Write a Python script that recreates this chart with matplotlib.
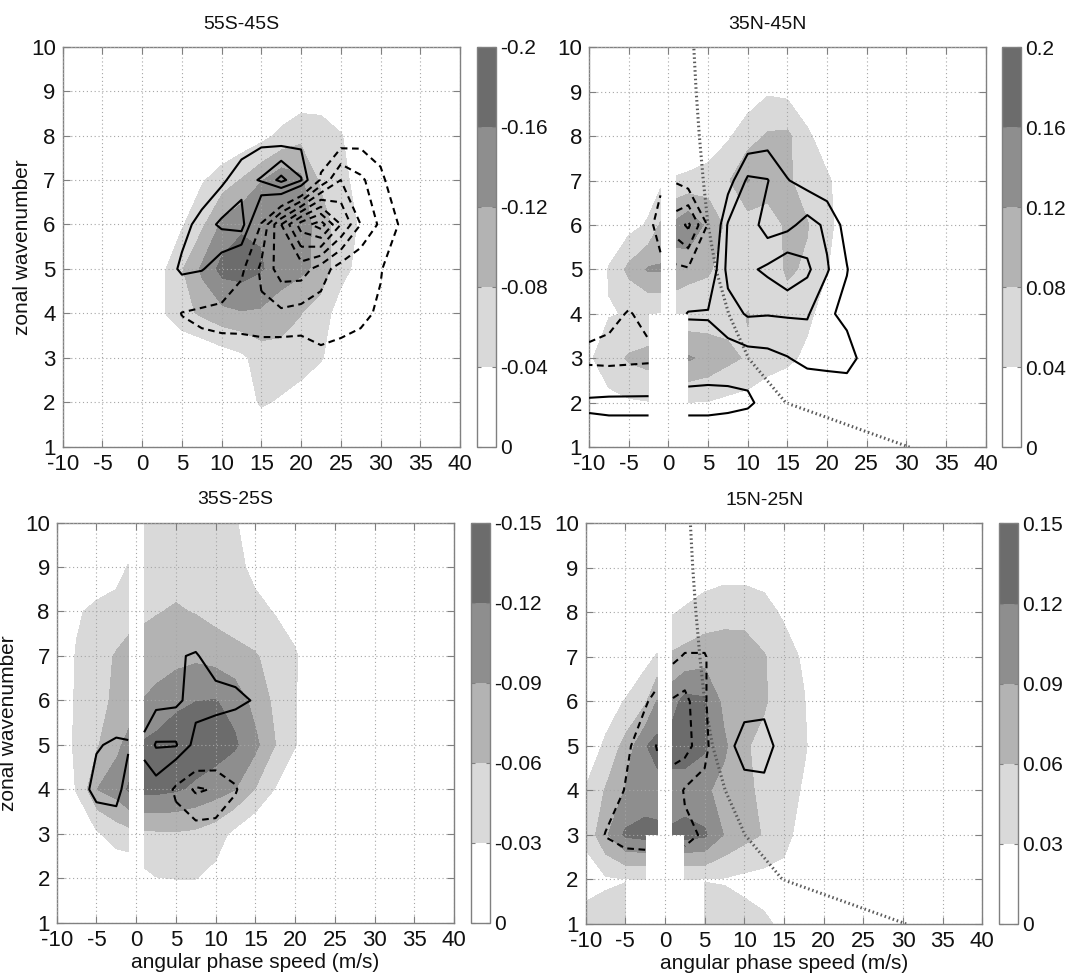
import numpy as np
import matplotlib
matplotlib.use('Agg')
import matplotlib.pyplot as plt
from matplotlib.colors import ListedColormap, BoundaryNorm
from matplotlib.cm import ScalarMappable

nan = np.nan

# grid: columns are angular phase speed (m/s), rows are zonal wavenumber 1..10
phase_speed = [-10, -7.5, -5, -2.5, -1, 0, 1, 2.5, 5, 7.5, 10, 12.5,
               15, 17.5, 20, 22.5, 25, 27.5, 30, 32.5, 35]
wavenumber = [1, 2, 3, 4, 5, 6, 7, 8, 9, 10]

# shaded fields, in units of 0.01
shade_55s = [
    [0] * 21,
    [0, 0, 0, 0, 0, 0, 0, 0, 0, 0, 0, -2, -4.5, -3.5, -2, 0, 0, 0, 0, 0, 0],
    [0, 0, 0, 0, 0, 0, 0, 0, 0, 0, -1.5, -3, -6, -6.5, -6, -4.4, -1, 0, 0, 0, 0],
    [0, 0, 0, 0, -0.5, -1, -2, -3.5, -6.5, -9, -11, -11.8, -11.5, -10, -8.2, -6, -2, 0, 0, 0, 0],
    [0, 0, 0, 0, -0.5, -1, -2, -3, -8, -13, -17.5, -18, -16.5, -14, -13, -11, -5.5, -2.5, 0, 0, 0],
    [0, 0, 0, 0, 0, 0, 0, -0.5, -3.5, -7.5, -13, -15.5, -15.5, -15, -14, -10.5, -6, -3.5, -0.5, 0, 0],
    [0, 0, 0, 0, 0, 0, 0, 0, -1, -3.5, -6, -8.5, -12, -15, -13, -7.5, -5.5, -2, 0, 0, 0],
    [0, 0, 0, 0, 0, 0, 0, 0, 0, 0, 0, -1, -2.5, -5, -7, -6.5, -4.3, -1, 0, 0, 0],
    [0, 0, 0, 0, 0, 0, 0, 0, 0, 0, 0, 0, 0, 0, -1, -1, 0, 0, 0, 0, 0],
    [0] * 21,
]
shade_35n = [
    [0] * 21,
    [1.5, 3, 3.5, 3.8, nan, nan, nan, 3.9, 3.8, 3, 2.5, 1, 0, 0, 0, 0, 0, 0, 0, 0, 0],
    [3.5, 6, 8.5, 9.5, nan, nan, nan, 12.5, 11, 9, 7.5, 6, 5, 3, 0, 0, 0, 0, 0, 0, 0],
    [2, 3.8, 4.2, 3.9, 3.8, nan, 4.5, 5, 5.5, 6.5, 8.2, 6, 6.5, 5, 2, 0, 0, 0, 0, 0, 0],
    [0, 4.3, 9, 12.5, 12.5, nan, 11, 9.5, 8.5, 6, 5, 6, 8.5, 7.5, 4.2, 0.5, 0, 0, 0, 0, 0],
    [0, 1, 2.5, 4.5, 8.5, nan, 13, 15, 11, 7, 6, 6.5, 8.5, 8.2, 5.5, 1, 0, 0, 0, 0, 0],
    [0, 0, 0, 2, 3, nan, 4.5, 5, 6, 7.5, 12.3, 9.5, 8.5, 6.5, 4.8, 1, 0, 0, 0, 0, 0],
    [0, 0, 0, 0, 0, 0, 0, 0, 1, 3.5, 6, 8.5, 8.8, 5, 1, 0, 0, 0, 0, 0, 0],
    [0, 0, 0, 0, 0, 0, 0, 0, 0, 0, 2, 3.5, 3, 0, 0, 0, 0, 0, 0, 0, 0],
    [0] * 21,
]
shade_35s = [
    [0] * 21,
    [0, 0, 0, 0, 0, nan, -2.2, -2.9, -3.05, -3.05, -2, 0, 0, 0, 0, 0, 0, 0, 0, 0, 0],
    [0, -0.5, -2.5, -4.5, -5, nan, -5.5, -5.7, -5.8, -5.5, -4.5, -2, 0, 0, 0, 0, 0, 0, 0, 0, 0],
    [0, -3.2, -9.1, -10.5, -12.5, nan, -13, -13, -12.5, -11.5, -10.5, -9.2, -6.1, -2.8, 0, 0, 0, 0, 0, 0, 0],
    [0, -3.8, -5.8, -8.5, -10, nan, -12.5, -13, -13.5, -14, -13.5, -12.5, -10, -6.2, -3.2, 0, 0, 0, 0, 0, 0],
    [0, -3.5, -5.3, -6.5, -7.5, nan, -9.2, -10, -11.5, -12, -12.2, -11, -8, -5.5, -3.2, 0, 0, 0, 0, 0, 0],
    [0, -3.3, -5, -6.3, -7, nan, -7.5, -7.5, -8, -8.5, -8, -7, -6.3, -5, -3.5, 0, 0, 0, 0, 0, 0],
    [0, -2.5, -4, -4.5, -5, nan, -5.5, -5.9, -6.3, -5.9, -5, -4.5, -4, -2.8, -1, 0, 0, 0, 0, 0, 0],
    [0, 0, 0, -1.5, -3.2, nan, -4, -4.5, -5, -5, -4.8, -4, -2, 0, 0, 0, 0, 0, 0, 0, 0],
    [0, 0, 0, 0, 0, 0, -3.5, -4, -4.5, -4.5, -4, -3.2, -1.5, 0, 0, 0, 0, 0, 0, 0, 0],
]
shade_15n = [
    [4, 4.2, 4.3, nan, 0, 0, 0, nan, 4.5, 4.3, 4, 3.4, 2.5, 0, 0, 0, 0, 0, 0, 0, 0],
    [2, 2.6, 2.9, 2.9, nan, nan, nan, 2.9, 2.9, 2.8, 2.3, 2, 1.5, 0.5, 0, 0, 0, 0, 0, 0, 0],
    [3.5, 8.5, 12.5, 13, 12.5, nan, 12.5, 13, 12.5, 8.8, 7, 5.8, 4.5, 1, 0, 0, 0, 0, 0, 0, 0],
    [3.2, 6.2, 9.2, 10.5, 11, nan, 10.5, 10.5, 9.5, 8, 6.5, 5.5, 5, 2.5, 0, 0, 0, 0, 0, 0, 0],
    [1, 3.5, 7, 11.8, 13, nan, 13.5, 13.5, 12.5, 9.5, 6.2, 5.5, 5, 3.5, 0.5, 0, 0, 0, 0, 0, 0],
    [0, 1.5, 3.2, 5.5, 9.2, nan, 11, 13, 12.5, 8, 6.5, 6.2, 5, 3.2, 0, 0, 0, 0, 0, 0, 0],
    [0, 0, 0, 2, 3.3, nan, 6.5, 7, 7.8, 8.2, 8, 6.2, 4.5, 2.5, 0, 0, 0, 0, 0, 0, 0],
    [0, 0, 0, 0, 0, 0, 2.8, 3.5, 4.3, 4.6, 4.6, 4.2, 2.5, 0, 0, 0, 0, 0, 0, 0, 0],
    [0, 0, 0, 0, 0, 0, 0, 0, 1.5, 2, 2, 1.5, 0, 0, 0, 0, 0, 0, 0, 0, 0],
    [0] * 21,
]

# overlaid line fields, in contour intervals (solid > 0, dashed < 0)
lines_55s = [
    [0] * 21,
    [0] * 21,
    [0, 0, 0, 0, 0, 0, 0, 0, -0.2, -0.4, -0.5, -0.3, -0.3, -0.3, -0.4, -0.8, -0.6, -0.4, 0, 0, 0],
    [0, 0, 0, 0, 0, 0, 0, 0, -1.05, -1.3, -1.4, -1.6, -1.8, -1.8, -1.6, -1.5, -1.5, -1.3, -0.8, 0, 0],
    [0, 0, 0, 0, 0, 0, 0, 0, 1.3, 1.1, 0.3, -0.8, -2.2, -3.5, -3.5, -2.5, -1.5, -1.1, -1.1, 0, 0],
    [0, 0, 0, 0, 0, 0, 0, 0, 0.5, 1.5, 2.2, 2.5, -1.1, -4, -6.5, -7.5, -5, -3, -1.8, -0.9, 0],
    [0, 0, 0, 0, 0, 0, 0, 0, 0, 0, 0.8, 1.6, 2.1, 3.3, 2.1, -1.2, -3, -2.2, -1.3, 0, 0],
    [0, 0, 0, 0, 0, 0, 0, 0, 0, 0, 0, 0.3, 0.6, 0.3, 0.5, 0, -0.2, -0.5, -0.3, 0, 0],
    [0] * 21,
    [0] * 21,
]
lines_35n = [
    [0] * 21,
    [1.3, 1.4, 1.4, 1.4, nan, nan, nan, 1.4, 1.4, 1.3, 1.15, 0.7, 0, 0, 0, 0, 0, 0, 0, 0, 0],
    [-1.4, -1.5, -1.4, -1.3, nan, nan, nan, 0.3, 0.4, 0.5, 0.6, 0.7, 0.95, 1.3, 1.4, 1.5, 0.5, 0, 0, 0, 0],
    [-0.3, -0.6, -1.1, -0.6, -0.3, nan, 0.5, 1.1, 1.1, 1.6, 2.1, 2.05, 2.1, 2.1, 1.2, 0.7, 0, 0, 0, 0, 0],
    [0, 0, 0, 0, -0.5, nan, -0.8, -0.9, 0, 2.3, 2.8, 3.2, 3.8, 3.2, 2.1, 1.05, 0, 0, 0, 0, 0],
    [0, 0, 0, -0.5, -1.8, nan, -2.5, -3.2, -0.9, 2.1, 2.6, 1.5, 1.7, 2.4, 1.8, 0.6, 0, 0, 0, 0, 0],
    [0, 0, 0, 0, -0.6, nan, -0.9, -0.5, 0, 0.5, 2.2, 2.05, 1.05, 0.6, 0.3, 0, 0, 0, 0, 0, 0],
    [0, 0, 0, 0, 0, 0, 0, 0, 0, 0, 0.2, 0.5, 0.2, 0, 0, 0, 0, 0, 0, 0, 0],
    [0] * 21,
    [0] * 21,
]
lines_35s = [
    [0] * 21,
    [0, 0, 0, 0, 0, nan, 0, 0, 0, 0, 0, 0, 0, 0, 0, 0, 0, 0, 0, 0, 0],
    [0, 0, 0, 0.5, 0, nan, 0, 0, -0.2, -0.5, -0.5, -0.2, 0, 0, 0, 0, 0, 0, 0, 0, 0],
    [0, 0.3, 1.4, 1.3, 0.6, nan, 0.6, 0.5, -1.3, -2.15, -1.9, -1.1, 0, 0, 0, 0, 0, 0, 0, 0, 0],
    [0, 0, 0.9, 1.2, 1.1, nan, 1.2, 2.1, 2.1, 0.6, 0.2, -0.2, 0, 0, 0, 0, 0, 0, 0, 0, 0],
    [0, 0, 0, 0, 0.2, nan, 0.5, 0.7, 0.8, 1.4, 1.4, 1.3, 0.9, 0, 0, 0, 0, 0, 0, 0, 0],
    [0, 0, 0, 0, 0, nan, 0, 0.3, 0.9, 1.1, 0.5, 0.3, 0, 0, 0, 0, 0, 0, 0, 0, 0],
    [0, 0, 0, 0, 0, nan, 0, 0, 0, 0, 0, 0, 0, 0, 0, 0, 0, 0, 0, 0, 0],
    [0, 0, 0, 0, 0, nan, 0, 0, 0, 0, 0, 0, 0, 0, 0, 0, 0, 0, 0, 0, 0],
    [0] * 21,
]
lines_15n = [
    [0, 0, 0, nan, 0, 0, 0, nan, 0, 0, 0, 0, 0, 0, 0, 0, 0, 0, 0, 0, 0],
    [0, 0, -0.3, -0.4, nan, nan, nan, -0.4, -0.2, 0, 0, 0, 0, 0, 0, 0, 0, 0, 0, 0, 0],
    [0, -1.05, -1.3, -1.3, -1.3, nan, -1.3, -1.2, -0.9, 0, 0, 0, 0, 0, 0, 0, 0, 0, 0, 0, 0],
    [0, -0.4, -1.05, -1.4, -1.6, nan, -1.6, -0.9, -0.7, 0, 0.3, 0.4, 0, 0, 0, 0, 0, 0, 0, 0, 0],
    [0, 0, -0.8, -1.5, -2.05, nan, -2.3, -2.4, -1.3, 0.2, 1.8, 1.9, 0, 0, 0, 0, 0, 0, 0, 0, 0],
    [0, 0, 0, -0.9, -1.3, nan, -2.1, -2.3, -1.1, 0, 0.3, 0.4, 0, 0, 0, 0, 0, 0, 0, 0, 0],
    [0, 0, 0, 0, -0.3, nan, -0.8, -1.1, -1.1, 0, 0, 0, 0, 0, 0, 0, 0, 0, 0, 0, 0],
    [0] * 21,
    [0] * 21,
    [0] * 21,
]

# critical-line phase speed per wavenumber (northern panels)
crit_k = [1, 2, 3, 4, 5, 6, 7, 8, 9, 10]
crit_c = [30.4, 14.8, 10.1, 7.6, 6.0, 5.0, 4.4, 3.9, 3.5, 3.2]

bounds_55s = [-0.2, -0.16, -0.12, -0.08, -0.04, 0]
bounds_35n = [0, 0.04, 0.08, 0.12, 0.16, 0.2]
bounds_35s = [-0.15, -0.12, -0.09, -0.06, -0.03, 0]
bounds_15n = [0, 0.03, 0.06, 0.09, 0.12, 0.15]

GRAYS = ['#d9d9d9', '#b3b3b3', '#8e8e8e', '#6c6c6c']
FRAME = '#808080'
TEXT = '#111111'

plt.rcParams['font.family'] = ['Liberation Sans', 'DejaVu Sans']
plt.rcParams['lines.dashed_pattern'] = [3.2, 2.2]
plt.rcParams['axes.unicode_minus'] = False


def draw_panel(fig, ax, cax, shade, lines, bounds, title, critical=False):
    c, k = np.meshgrid(phase_speed, wavenumber)
    z = np.ma.masked_invalid(np.array(shade, dtype=float) * 0.01)
    lz = np.ma.masked_invalid(np.array(lines, dtype=float))

    negative = bounds[0] < 0
    if negative:
        fill_levels = bounds[:-1]
        fill_colors = GRAYS[::-1]
        bar_colors = GRAYS[::-1] + ['white']
    else:
        fill_levels = bounds[1:]
        fill_colors = GRAYS
        bar_colors = ['white'] + GRAYS

    ax.contourf(c, k, z, levels=fill_levels, colors=fill_colors,
                corner_mask=False, zorder=0)
    ax.contour(c, k, lz, levels=[1, 2, 3], colors='k', linewidths=1.5,
               linestyles='solid', corner_mask=False, zorder=3)
    ax.contour(c, k, lz, levels=[-7, -6, -5, -4, -3, -2, -1], colors='k',
               linewidths=1.5, linestyles='dashed', corner_mask=False, zorder=3)

    if critical:
        ax.plot(crit_c, crit_k, linestyle=(0, (0.5, 0.9)), linewidth=2.2,
                color='#5a5a5a', zorder=2)

    ax.set_xlim(-10, 40)
    ax.set_ylim(1, 10)
    ax.set_xticks(range(-10, 41, 5))
    ax.set_yticks(range(1, 11))
    ax.set_axisbelow(False)
    ax.grid(True, color='#a6a6a6', linestyle=(0, (1, 2.5)), linewidth=0.8)
    ax.tick_params(direction='in', top=True, right=True, length=5, width=0.8,
                   color=FRAME, labelsize=16, labelcolor=TEXT, pad=5)
    for sp in ax.spines.values():
        sp.set_color(FRAME)
        sp.set_linewidth(1.0)
    ax.set_title(title, fontsize=14, color=TEXT, pad=13, x=0.45)

    norm = BoundaryNorm(bounds, len(bounds) - 1)
    sm = ScalarMappable(norm=norm, cmap=ListedColormap(bar_colors))
    cb = fig.colorbar(sm, cax=cax, ticks=bounds)
    if negative:
        cax.invert_yaxis()
    cb.ax.set_yticklabels(['%g' % b for b in bounds])
    cb.outline.set_edgecolor(FRAME)
    cb.outline.set_linewidth(1.0)
    cax.tick_params(direction='in', length=3, width=0.8, color=FRAME,
                    left=True, right=True, labelsize=15, labelcolor=TEXT, pad=3)


fig = plt.figure(figsize=(10.66, 9.73), dpi=100)

ax1 = fig.add_axes([0.0588, 0.5409, 0.3727, 0.4111])
ax2 = fig.add_axes([0.5526, 0.5404, 0.3721, 0.4111])
ax3 = fig.add_axes([0.0532, 0.0514, 0.3727, 0.4116])
ax4 = fig.add_axes([0.5494, 0.0504, 0.3721, 0.4116])
cb1 = fig.add_axes([0.4472, 0.5409, 0.0178, 0.4111])
cb2 = fig.add_axes([0.9403, 0.5404, 0.0178, 0.4111])
cb3 = fig.add_axes([0.4418, 0.0514, 0.0178, 0.4116])
cb4 = fig.add_axes([0.9371, 0.0504, 0.0178, 0.4116])

draw_panel(fig, ax1, cb1, shade_55s, lines_55s, bounds_55s, '55S-45S')
draw_panel(fig, ax2, cb2, shade_35n, lines_35n, bounds_35n, '35N-45N', critical=True)
draw_panel(fig, ax3, cb3, shade_35s, lines_35s, bounds_35s, '35S-25S')
draw_panel(fig, ax4, cb4, shade_15n, lines_15n, bounds_15n, '15N-25N', critical=True)

for ax, xpos in ((ax1, -0.077), (ax3, -0.097)):
    ax.set_ylabel('zonal wavenumber', fontsize=15, color=TEXT)
    ax.yaxis.set_label_coords(xpos, 0.5)
for ax in (ax3, ax4):
    ax.set_xlabel('angular phase speed (m/s)', fontsize=15, color=TEXT)
    ax.xaxis.set_label_coords(0.5, -0.075)

fig.savefig('out.png', dpi=100, facecolor='white')
